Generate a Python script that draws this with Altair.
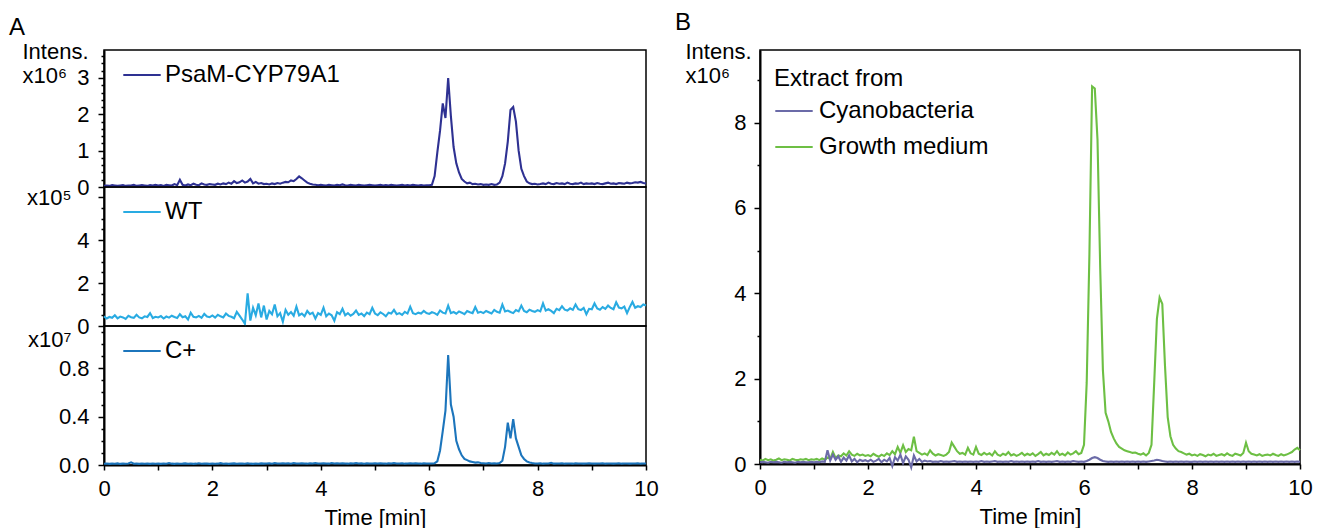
import altair as alt
import pandas as pd

FONT = "Liberation Sans"

# sampling times (min)
TIME = [
    0.00, 0.05, 0.10, 0.15, 0.20, 0.25, 0.30, 0.35, 0.40, 0.45, 0.50, 0.55, 0.60, 0.65, 0.70, 0.75, 0.80, 0.85, 0.90, 0.95,
    1.00, 1.05, 1.10, 1.15, 1.20, 1.25, 1.30, 1.35, 1.40, 1.45, 1.50, 1.55, 1.60, 1.65, 1.70, 1.75, 1.80, 1.85, 1.90, 1.95,
    2.00, 2.05, 2.10, 2.15, 2.20, 2.25, 2.30, 2.35, 2.40, 2.45, 2.50, 2.55, 2.60, 2.65, 2.70, 2.75, 2.80, 2.85, 2.90, 2.95,
    3.00, 3.05, 3.10, 3.15, 3.20, 3.25, 3.30, 3.35, 3.40, 3.45, 3.50, 3.55, 3.60, 3.65, 3.70, 3.75, 3.80, 3.85, 3.90, 3.95,
    4.00, 4.05, 4.10, 4.15, 4.20, 4.25, 4.30, 4.35, 4.40, 4.45, 4.50, 4.55, 4.60, 4.65, 4.70, 4.75, 4.80, 4.85, 4.90, 4.95,
    5.00, 5.05, 5.10, 5.15, 5.20, 5.25, 5.30, 5.35, 5.40, 5.45, 5.50, 5.55, 5.60, 5.65, 5.70, 5.75, 5.80, 5.85, 5.90, 5.95,
    6.00, 6.05, 6.10, 6.15, 6.20, 6.25, 6.30, 6.35, 6.40, 6.45, 6.50, 6.55, 6.60, 6.65, 6.70, 6.75, 6.80, 6.85, 6.90, 6.95,
    7.00, 7.05, 7.10, 7.15, 7.20, 7.25, 7.30, 7.35, 7.40, 7.45, 7.50, 7.55, 7.60, 7.65, 7.70, 7.75, 7.80, 7.85, 7.90, 7.95,
    8.00, 8.05, 8.10, 8.15, 8.20, 8.25, 8.30, 8.35, 8.40, 8.45, 8.50, 8.55, 8.60, 8.65, 8.70, 8.75, 8.80, 8.85, 8.90, 8.95,
    9.00, 9.05, 9.10, 9.15, 9.20, 9.25, 9.30, 9.35, 9.40, 9.45, 9.50, 9.55, 9.60, 9.65, 9.70, 9.75, 9.80, 9.85, 9.90, 9.95,
    10.00,
]

# Panel A, PsaM-CYP79A1 (x10^6)
PSAM = [
    0.03, 0.04, 0.03, 0.05, 0.04, 0.03, 0.04, 0.05, 0.03, 0.04, 0.04, 0.06, 0.03, 0.04, 0.05, 0.04, 0.03, 0.05, 0.04, 0.06,
    0.04, 0.05, 0.03, 0.06, 0.05, 0.04, 0.08, 0.05, 0.20, 0.06, 0.04, 0.07, 0.05, 0.09, 0.06, 0.05, 0.10, 0.07, 0.06, 0.08,
    0.07, 0.06, 0.09, 0.07, 0.10, 0.08, 0.12, 0.09, 0.16, 0.11, 0.13, 0.18, 0.12, 0.15, 0.22, 0.10, 0.14, 0.09, 0.11, 0.08,
    0.09, 0.07, 0.10, 0.08, 0.11, 0.09, 0.12, 0.14, 0.13, 0.18, 0.16, 0.22, 0.29, 0.24, 0.18, 0.12, 0.09, 0.07, 0.06, 0.05,
    0.06, 0.05, 0.04, 0.06, 0.05, 0.04, 0.06, 0.05, 0.07, 0.05, 0.04, 0.06, 0.05, 0.04, 0.06, 0.05, 0.04, 0.05, 0.06, 0.05,
    0.04, 0.05, 0.06, 0.04, 0.05, 0.04, 0.06, 0.05, 0.04, 0.05, 0.06, 0.04, 0.05, 0.04, 0.06, 0.05, 0.04, 0.05, 0.04, 0.05,
    0.05, 0.06, 0.30, 0.95, 1.55, 2.30, 1.90, 3.00, 1.95, 1.10, 0.65, 0.40, 0.22, 0.15, 0.10, 0.12, 0.08, 0.09, 0.07, 0.08,
    0.06, 0.07, 0.06, 0.08, 0.06, 0.07, 0.12, 0.30, 0.65, 1.25, 2.12, 2.20, 1.80, 1.00, 0.50, 0.30, 0.15, 0.10, 0.08, 0.09,
    0.07, 0.08, 0.10, 0.08, 0.12, 0.09, 0.08, 0.11, 0.09, 0.10, 0.08, 0.12, 0.09, 0.08, 0.10, 0.09, 0.12, 0.08, 0.10, 0.09,
    0.10, 0.08, 0.11, 0.09, 0.08, 0.10, 0.12, 0.09, 0.10, 0.08, 0.11, 0.10, 0.09, 0.12, 0.10, 0.11, 0.13, 0.12, 0.14, 0.11,
    0.10,
]

# Panel A, WT (x10^5)
WT = [
    0.45, 0.35, 0.42, 0.38, 0.50, 0.36, 0.44, 0.40, 0.33, 0.47, 0.41, 0.38, 0.52, 0.40, 0.36, 0.45, 0.42, 0.60, 0.37, 0.43,
    0.40, 0.46, 0.35, 0.44, 0.39, 0.48, 0.42, 0.37, 0.55, 0.41, 0.45, 0.30, 0.62, 0.43, 0.40, 0.47, 0.38, 0.56, 0.44, 0.41,
    0.49, 0.39, 0.52, 0.45, 0.40, 0.58, 0.47, 0.43, 0.36, 0.66, 0.48, 0.30, 0.10, 1.52, 0.25, 0.85, 0.50, 1.05, 0.40, 0.95,
    0.30, 0.70, 0.55, 1.00, 0.45, 0.60, 0.20, 0.75, 0.52, 0.65, 0.48, 0.90, 0.50, 0.58, 0.45, 0.70, 0.55, 0.62, 0.35, 0.60,
    0.52, 0.85, 0.45, 0.58, 0.50, 0.25, 0.64, 0.55, 0.80, 0.50, 0.60, 0.48, 0.56, 0.72, 0.52, 0.58, 0.46, 0.62, 0.55, 0.85,
    0.58, 0.50, 0.64, 0.56, 0.45, 0.62, 0.58, 0.75, 0.55, 0.60, 0.52, 0.66, 0.58, 0.90, 0.60, 0.55, 0.62, 0.58, 0.70, 0.60,
    0.56, 0.64, 0.60, 0.52, 0.72, 0.62, 0.58, 0.95, 0.60, 0.65, 0.57, 0.68, 0.62, 0.55, 0.70, 0.64, 0.60, 0.88, 0.62, 0.66,
    0.60, 0.70, 0.64, 0.58, 0.75, 0.66, 0.62, 1.00, 0.68, 0.72, 0.65, 0.60, 0.74, 0.68, 0.95, 0.70, 0.64, 0.76, 0.70, 0.66,
    0.74, 0.68, 1.05, 0.72, 0.78, 0.70, 0.60, 0.80, 0.74, 0.92, 0.76, 0.72, 0.82, 0.75, 1.00, 0.78, 0.74, 0.84, 0.55, 0.80,
    0.78, 1.05, 0.82, 0.76, 0.88, 0.80, 0.95, 0.84, 0.78, 1.10, 0.86, 0.82, 0.90, 0.60, 0.88, 1.12, 0.85, 0.92, 0.88, 1.00,
    0.95,
]

# Panel A, C+ (x10^7)
CPOS = [
    0.010, 0.012, 0.009, 0.011, 0.010, 0.013, 0.009, 0.011, 0.010, 0.012, 0.022, 0.010, 0.011, 0.009, 0.012, 0.010, 0.011, 0.009, 0.012, 0.010,
    0.011, 0.009, 0.012, 0.010, 0.016, 0.011, 0.009, 0.012, 0.010, 0.011, 0.013, 0.010, 0.012, 0.009, 0.011, 0.014, 0.010, 0.012, 0.011, 0.009,
    0.012, 0.010, 0.011, 0.015, 0.010, 0.012, 0.009, 0.011, 0.013, 0.010, 0.012, 0.011, 0.010, 0.014, 0.011, 0.009, 0.012, 0.010, 0.013, 0.011,
    0.012, 0.014, 0.011, 0.016, 0.012, 0.013, 0.015, 0.012, 0.014, 0.011, 0.016, 0.013, 0.012, 0.015, 0.013, 0.011, 0.014, 0.012, 0.016, 0.013,
    0.012, 0.015, 0.013, 0.011, 0.016, 0.012, 0.014, 0.013, 0.015, 0.012, 0.011, 0.014, 0.013, 0.016, 0.012, 0.014, 0.011, 0.015, 0.013, 0.012,
    0.014, 0.012, 0.015, 0.013, 0.011, 0.014, 0.012, 0.016, 0.013, 0.012, 0.014, 0.011, 0.013, 0.015, 0.012, 0.014, 0.013, 0.011, 0.014, 0.012,
    0.013, 0.012, 0.015, 0.030, 0.120, 0.280, 0.450, 0.910, 0.500, 0.400, 0.200, 0.130, 0.080, 0.050, 0.040, 0.030, 0.025, 0.020, 0.022, 0.016,
    0.015, 0.012, 0.016, 0.012, 0.014, 0.013, 0.016, 0.035, 0.150, 0.350, 0.220, 0.380, 0.220, 0.150, 0.080, 0.050, 0.030, 0.020, 0.016, 0.013,
    0.012, 0.014, 0.011, 0.013, 0.012, 0.018, 0.011, 0.013, 0.012, 0.014, 0.011, 0.013, 0.012, 0.011, 0.014, 0.012, 0.013, 0.011, 0.012, 0.014,
    0.012, 0.011, 0.013, 0.012, 0.014, 0.011, 0.012, 0.013, 0.011, 0.012, 0.014, 0.011, 0.013, 0.012, 0.011, 0.013, 0.012, 0.014, 0.011, 0.012,
    0.013,
]

# Panel B, Cyanobacteria (x10^6)
CYANO = [
    0.04, 0.05, 0.04, 0.03, 0.05, 0.04, 0.05, 0.04, 0.03, 0.05, 0.04, 0.05, 0.04, 0.03, 0.05, 0.04, 0.05, 0.04, 0.04, 0.05,
    0.04, 0.05, 0.04, 0.06, 0.05, 0.32, 0.08, 0.22, 0.10, 0.18, 0.05, 0.15, 0.08, 0.20, 0.06, 0.12, 0.04, 0.10, 0.07, 0.09,
    0.06, 0.10, 0.05, 0.08, 0.12, 0.04, 0.10, 0.06, 0.14, -0.05, 0.16, 0.08, 0.22, 0.02, 0.18, 0.10, -0.08, 0.20, 0.06, 0.12,
    0.05, 0.08, 0.06, 0.07, 0.05, 0.06, 0.05, 0.07, 0.05, 0.06, 0.05, 0.06, 0.07, 0.05, 0.06, 0.05, 0.06, 0.05, 0.06, 0.05,
    0.06, 0.05, 0.07, 0.05, 0.06, 0.05, 0.06, 0.07, 0.05, 0.06, 0.05, 0.06, 0.05, 0.07, 0.05, 0.06, 0.05, 0.06, 0.05, 0.06,
    0.05, 0.06, 0.05, 0.07, 0.05, 0.06, 0.05, 0.06, 0.05, 0.06, 0.07, 0.05, 0.06, 0.05, 0.06, 0.05, 0.07, 0.06, 0.05, 0.06,
    0.05, 0.07, 0.10, 0.14, 0.16, 0.14, 0.10, 0.07, 0.06, 0.05, 0.06, 0.05, 0.06, 0.05, 0.06, 0.05, 0.06, 0.05, 0.06, 0.05,
    0.06, 0.05, 0.06, 0.05, 0.06, 0.07, 0.08, 0.10, 0.09, 0.07, 0.06, 0.05, 0.06, 0.05, 0.06, 0.05, 0.06, 0.05, 0.06, 0.05,
    0.05, 0.06, 0.05, 0.06, 0.05, 0.06, 0.05, 0.06, 0.05, 0.06, 0.05, 0.06, 0.05, 0.06, 0.05, 0.06, 0.05, 0.06, 0.05, 0.06,
    0.05, 0.06, 0.05, 0.06, 0.05, 0.06, 0.05, 0.06, 0.05, 0.06, 0.05, 0.06, 0.05, 0.06, 0.05, 0.06, 0.05, 0.06, 0.05, 0.06,
    0.05,
]

# Panel B, Growth medium (x10^6)
GROWTH = [
    0.10, 0.08, 0.12, 0.09, 0.11, 0.08, 0.10, 0.13, 0.09, 0.11, 0.10, 0.08, 0.12, 0.10, 0.09, 0.11, 0.10, 0.12, 0.09, 0.11,
    0.10, 0.12, 0.09, 0.13, 0.10, 0.15, 0.12, 0.28, 0.14, 0.20, 0.18, 0.25, 0.20, 0.30, 0.22, 0.19, 0.24, 0.20, 0.22, 0.19,
    0.21, 0.18, 0.24, 0.20, 0.17, 0.22, 0.19, 0.25, 0.21, 0.30, 0.23, 0.40, 0.26, 0.44, 0.28, 0.35, 0.32, 0.64, 0.30, 0.26,
    0.22, 0.25, 0.21, 0.32, 0.24, 0.20, 0.23, 0.21, 0.19, 0.22, 0.28, 0.50, 0.40, 0.30, 0.24, 0.26, 0.22, 0.38, 0.25, 0.22,
    0.40, 0.24, 0.21, 0.26, 0.22, 0.25, 0.20, 0.30, 0.22, 0.19, 0.24, 0.21, 0.28, 0.20, 0.23, 0.19, 0.22, 0.26, 0.20, 0.24,
    0.21, 0.25, 0.19, 0.23, 0.28, 0.20, 0.24, 0.21, 0.26, 0.22, 0.30, 0.21, 0.24, 0.20, 0.27, 0.22, 0.25, 0.30, 0.23, 0.26,
    0.45, 1.90, 4.90, 8.85, 8.80, 7.60, 4.60, 2.20, 1.20, 1.00, 0.75, 0.60, 0.48, 0.40, 0.36, 0.32, 0.30, 0.28, 0.26, 0.27,
    0.24, 0.22, 0.25, 0.20, 0.26, 0.45, 1.90, 3.40, 3.90, 3.75, 2.30, 1.10, 0.65, 0.45, 0.36, 0.30, 0.28, 0.25, 0.22, 0.24,
    0.20, 0.22, 0.19, 0.23, 0.21, 0.18, 0.22, 0.20, 0.24, 0.19, 0.21, 0.23, 0.20, 0.25, 0.21, 0.19, 0.24, 0.22, 0.20, 0.26,
    0.50, 0.30, 0.24, 0.22, 0.20, 0.23, 0.19, 0.21, 0.22, 0.20, 0.24, 0.21, 0.19, 0.23, 0.20, 0.22, 0.25, 0.28, 0.34, 0.38,
    0.32,
]

SERIES_A = ["PsaM-CYP79A1", "WT", "C+"]
COLORS_A = ["#2e3192", "#29abe2", "#1c75bc"]
SERIES_B = ["Cyanobacteria", "Growth medium"]
COLORS_B = ["#6b6ba8", "#6dbf44"]

X_TICKS = [0, 1, 2, 3, 4, 5, 6, 7, 8, 9, 10]
A1_TICKS = [0, 0.2, 0.4, 0.6, 0.8, 1, 1.2, 1.4, 1.6, 1.8, 2, 2.2, 2.4, 2.6, 2.8, 3, 3.2, 3.4, 3.6]
A2_TICKS = [0, 0.5, 1, 1.5, 2, 2.5, 3, 3.5, 4, 4.5, 5, 5.5, 6]
A3_TICKS = [0, 0.1, 0.2, 0.3, 0.4, 0.5, 0.6, 0.7, 0.8, 0.9, 1.0, 1.1]
B_TICKS = [0, 1, 2, 3, 4, 5, 6, 7, 8, 9]

LEG_FS = 24


def is_mult(step):
    return f"abs(datum.value / {step} - round(datum.value / {step})) < 0.001"


def tick_size(step, major=6, minor=3):
    return {"condition": {"test": is_mult(step), "value": major}, "value": minor}


def frame(vals, name):
    return pd.DataFrame({"t": TIME, "v": vals, "series": name})


x_hidden = alt.X("t:Q", scale=alt.Scale(domain=[0, 10], nice=False, zero=False), axis=None)
x_shown = alt.X(
    "t:Q",
    scale=alt.Scale(domain=[0, 10], nice=False, zero=False),
    axis=alt.Axis(
        values=X_TICKS,
        tickSize=5,
        labelExpr=f"{is_mult(2)} ? format(datum.value, 'd') : ''",
        labelOverlap=False,
        labelFlush=False,
        labelPadding=8,
        title="Time [min]",
        titlePadding=8,
    ),
)


def legend_single():
    return alt.Legend(
        orient="none", legendX=18, legendY=5, title=None, symbolType="stroke",
        symbolSize=1400, symbolStrokeWidth=2, labelFontSize=LEG_FS, labelFont=FONT,
        labelColor="black", labelOffset=3, labelLimit=400, padding=0,
    )


def panel_a(vals, idx, ticks, step, fmt, maxlab, dom, height, title_lines, tx, ty, talign, tbase,
            xenc, title=None):
    y = alt.Y(
        "v:Q",
        scale=alt.Scale(domain=dom, nice=False, zero=False),
        axis=alt.Axis(
            values=ticks,
            tickSize=tick_size(step),
            labelExpr=f"({is_mult(step)}) && datum.value <= {maxlab} ? format(datum.value, '{fmt}') : ''",
            labelOverlap=False,
            labelFlush=False,
            labelPadding=9,
            title=title_lines,
            titleAngle=0,
            titleAlign=talign,
            titleBaseline=tbase,
            titleX=tx,
            titleY=ty,
            titleLineHeight=24,
        ),
    )
    color = alt.Color(
        "series:N",
        scale=alt.Scale(domain=[SERIES_A[idx]], range=[COLORS_A[idx]]),
        legend=legend_single(),
    )
    props = dict(width=542, height=height)
    if title is not None:
        props["title"] = title
    return (
        alt.Chart(frame(vals, SERIES_A[idx]))
        .mark_line(strokeWidth=2.1, clip=False)
        .encode(x=xenc, y=y, color=color)
        .properties(**props)
    )


title_a = alt.TitleParams("A", anchor="start", frame="group", dx=-95, fontSize=24,
                          font=FONT, fontWeight="normal", color="black", offset=0)
title_b = alt.TitleParams("B", anchor="start", frame="group", dx=-85, fontSize=24,
                          font=FONT, fontWeight="normal", color="black", offset=5)

a1 = panel_a(PSAM, 0, A1_TICKS, 1, "d", 3, [0, 3.77], 137,
             ["Intens.", "x10⁶"], -82, -9, "left", "top", x_hidden, title=title_a)
a2 = panel_a(WT, 1, A2_TICKS, 2, "d", 4, [0, 6.47], 139, "x10⁵", -33, 10, "right", "middle", x_hidden)
a3 = panel_a(CPOS, 2, A3_TICKS, 0.4, ".1f", 0.8, [0, 1.15], 139, "x10⁷", -33, 13, "right", "middle", x_shown)

panelA = alt.vconcat(a1, a2, a3, spacing=0, bounds="flush").resolve_scale(color="independent")

yb = alt.Y(
    "v:Q",
    scale=alt.Scale(domain=[0, 9.7], nice=False, zero=False),
    axis=alt.Axis(
        values=B_TICKS,
        tickSize=tick_size(2),
        labelExpr=f"{is_mult(2)} ? format(datum.value, 'd') : ''",
        labelOverlap=False,
        labelFlush=False,
        labelPadding=8,
        title=["Intens.", "x10⁶"],
        titleAngle=0,
        titleAlign="left",
        titleBaseline="top",
        titleX=-75,
        titleY=-9,
        titleLineHeight=24,
    ),
)
color_b = alt.Color(
    "series:N",
    scale=alt.Scale(domain=SERIES_B, range=COLORS_B),
    legend=alt.Legend(
        orient="none", legendX=14, legendY=17, title="Extract from", titleFontSize=LEG_FS,
        titleFont=FONT, titleFontWeight="normal", titleColor="black", titlePadding=0,
        symbolType="stroke", symbolSize=1400, symbolStrokeWidth=2, labelFontSize=LEG_FS,
        labelFont=FONT, labelColor="black", labelOffset=5, labelLimit=400, rowPadding=4, padding=0,
    ),
)
green = alt.Chart(frame(GROWTH, SERIES_B[1])).mark_line(strokeWidth=2.1, clip=False).encode(
    x=x_shown, y=yb, color=color_b)
purple = alt.Chart(frame(CYANO, SERIES_B[0])).mark_line(strokeWidth=2.1, clip=False).encode(
    x=x_shown, y=yb, color=color_b)
panelB = alt.layer(green, purple).properties(width=540, height=414, title=title_b)

chart = (
    alt.hconcat(panelA, panelB, spacing=15)
    .resolve_scale(color="independent")
    .properties(padding={"left": 0, "top": 2, "right": 0, "bottom": 0}, background="white")
    .configure_view(stroke="black", strokeWidth=1.5)
    .configure_axis(
        domainColor="black", domainWidth=2, tickColor="black", tickWidth=1.5,
        labelFont=FONT, titleFont=FONT, labelFontSize=22, titleFontSize=22,
        labelColor="black", titleColor="black", grid=False, titleFontWeight="normal",
    )
)

chart.save("out.html", embed_options={"renderer": "svg", "actions": False})
